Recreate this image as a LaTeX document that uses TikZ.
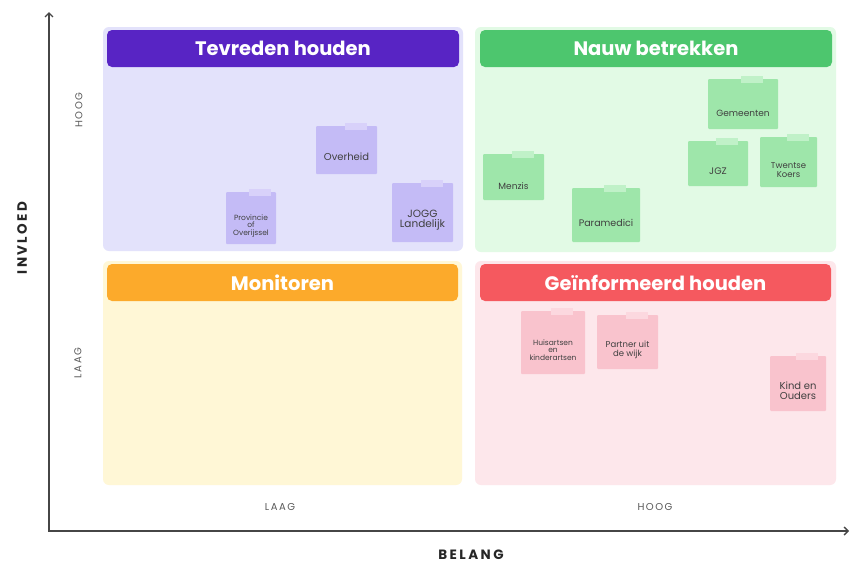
\documentclass[tikz,border=0pt]{standalone}
\usepackage{fontspec}
\setmainfont{Poppins}
\newfontfamily\hfont{Poppins}
\newfontfamily\axfont{Poppins}[LetterSpace=18]
\newfontfamily\smfont{Poppins}[LetterSpace=15]
\usetikzlibrary{arrows.meta}
\definecolor{hdP}{RGB}{88,36,196}
\definecolor{hdG}{RGB}{77,198,110}
\definecolor{hdO}{RGB}{252,170,43}
\definecolor{hdR}{RGB}{245,89,95}
\definecolor{bgP}{RGB}{227,226,251}
\definecolor{bgG}{RGB}{226,250,229}
\definecolor{bgO}{RGB}{255,247,214}
\definecolor{bgR}{RGB}{253,231,235}
\definecolor{stP}{RGB}{196,187,246}
\definecolor{stG}{RGB}{158,230,170}
\definecolor{stR}{RGB}{249,195,205}
\definecolor{tpP}{RGB}{216,209,250}
\definecolor{tpG}{RGB}{192,241,200}
\definecolor{tpR}{RGB}{252,216,223}
\definecolor{axc}{RGB}{70,70,70}
\begin{document}
\begin{tikzpicture}[x=1pt,y=-1pt,
  panel/.style={rounded corners=6pt, inner sep=0pt, draw=none},
  header/.style={rounded corners=5pt, minimum width=352pt, minimum height=37pt, inner sep=0pt,
     text=white, font=\hfont\bfseries\fontsize{19.5}{21}\selectfont},
  sticky/.style={inner sep=0pt, rounded corners=1pt},
  note/.style={font=\hfont\fontsize{#1}{#1}\selectfont, text=black!75, align=center, inner sep=0pt},
  axis/.style={line width=1.4pt, draw=axc},
  axlabel/.style={font=\axfont\bfseries\fontsize{13.5}{13.5}\selectfont, text=black!85, inner sep=0pt},
  lvl/.style={font=\smfont\fontsize{10}{10}\selectfont, text=black!65, inner sep=0pt}
]
\useasboundingbox (0,0) rectangle (850,563);
\fill[white] (0,0) rectangle (850,563);

% panels
\node[panel, fill=bgP, minimum width=360pt, minimum height=224pt] (pTL) at (283,139) {};
\node[panel, fill=bgG, minimum width=361pt, minimum height=225pt] (pTR) at (655.5,139.5) {};
\node[panel, fill=bgO, minimum width=359pt, minimum height=224pt] (pBL) at (282.5,373) {};
\node[panel, fill=bgR, minimum width=361pt, minimum height=224pt] (pBR) at (655.5,373) {};

% headers
\node[header, fill=hdP] (hTL) at (283,48.5) {Tevreden houden};
\node[header, fill=hdG] (hTR) at (656,48.5) {Nauw betrekken};
\node[header, fill=hdO, minimum width=351pt] (hBL) at (282.5,282.5) {Monitoren};
\node[header, fill=hdR, minimum width=351pt] (hBR) at (655.5,282.5) {Geïnformeerd houden};

% sticky notes: top left
\node[sticky, fill=stP, minimum width=61pt, minimum height=48pt,
  label={[note=10, yshift=-7pt]center:Overheid}] (ov) at (346.5,150) {};
\node[sticky, fill=stP, minimum width=50pt, minimum height=52pt,
  label={[note=7.5, yshift=-8pt]center:Provincie\\of\\Overijssel}] (pr) at (251,218) {};
\node[sticky, fill=stP, minimum width=61pt, minimum height=59pt,
  label={[note=10.5, yshift=-7.5pt]center:JOGG\\Landelijk}] (jo) at (422.5,212.5) {};

% top right
\node[sticky, fill=stG, minimum width=70pt, minimum height=50pt,
  label={[note=9, yshift=-9pt]center:Gemeenten}] (ge) at (743,104) {};
\node[sticky, fill=stG, minimum width=60pt, minimum height=45pt,
  label={[note=9.5, yshift=-7.5pt]center:JGZ}] (jg) at (718,163.5) {};
\node[sticky, fill=stG, minimum width=57pt, minimum height=50pt,
  label={[note=8.5, yshift=-8pt]center:Twentse\\Koers}] (tw) at (788.5,162) {};
\node[sticky, fill=stG, minimum width=61pt, minimum height=46pt,
  label={[note=9, yshift=-9pt]center:Menzis}] (me) at (513.5,177) {};
\node[sticky, fill=stG, minimum width=68pt, minimum height=54pt,
  label={[note=9.5, yshift=-8pt]center:Paramedici}] (pa) at (606,215) {};

% bottom right
\node[sticky, fill=stR, minimum width=64pt, minimum height=63pt,
  label={[note=7.5, yshift=-7.5pt]center:Huisartsen\\en\\kinderartsen}] (hu) at (553,342.5) {};
\node[sticky, fill=stR, minimum width=61pt, minimum height=54pt,
  label={[note=8.5, yshift=-8pt]center:Partner uit\\de wijk}] (pt) at (627.5,342) {};
\node[sticky, fill=stR, minimum width=56pt, minimum height=55pt,
  label={[note=10, yshift=-7.5pt]center:Kind en\\Ouders}] (ki) at (798,383.5) {};

% tapes
\foreach \n in {ov,pr,jo}
  \fill[tpP] ([xshift=-2pt,yshift=3pt]\n.north) rectangle ([xshift=20pt,yshift=-4pt]\n.north);
\foreach \n in {ge,jg,tw,me,pa}
  \fill[tpG] ([xshift=-2pt,yshift=3pt]\n.north) rectangle ([xshift=20pt,yshift=-4pt]\n.north);
\foreach \n in {hu,pt,ki}
  \fill[tpR] ([xshift=-2pt,yshift=3pt]\n.north) rectangle ([xshift=20pt,yshift=-4pt]\n.north);

% axes
\coordinate (O) at (49,531);
\coordinate (Yt) at (49,12);
\coordinate (Xe) at (849,531);
\draw[axis, {Straight Barb[length=4pt,width=8pt]}-{Straight Barb[length=4pt,width=8pt]}] (Yt) -- (O) -- (Xe);

% axis labels
\node[axlabel, rotate=90] (inv) at (22,238) {INVLOED};
\node[axlabel] (bel) at (471,554.5) {BELANG};
\node[lvl, rotate=90] (hy) at (79,110) {HOOG};
\node[lvl, rotate=90] (ly) at (78,363) {LAAG};
\node[lvl] (lx) at (280,507) {LAAG};
\node[lvl] (hx) at (655,507) {HOOG};
\end{tikzpicture}
\end{document}
